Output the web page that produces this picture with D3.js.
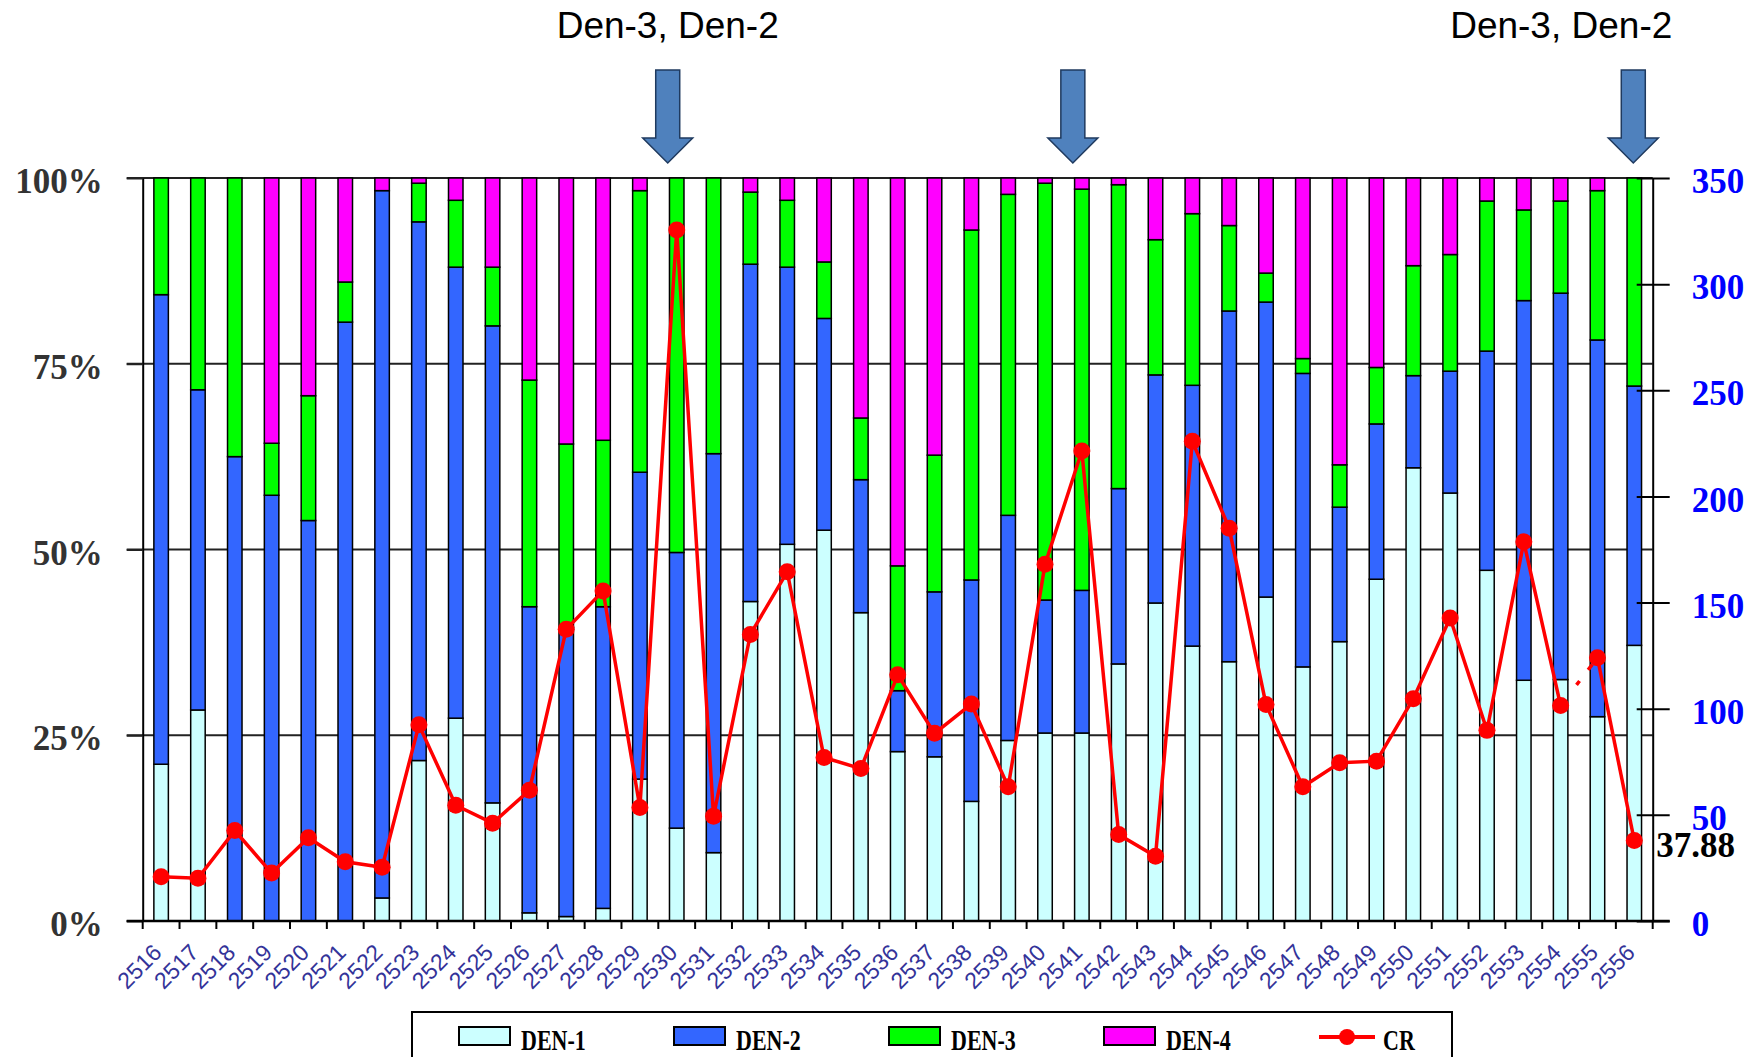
<!DOCTYPE html>
<html lang='en'>
  <head>
    <style type='text/css'>
      body {margin: 0; background-color: #fff;}
      svg {display: block;}
    </style>
  </head>
  <body>
    <svg id='chart' width='1755' height='1057'></svg>

    <script src='https://d3js.org/d3.v7.min.js'></script>
    <script type='text/javascript'>
        // ---- data ----
        var years = ["2516","2517","2518","2519","2520","2521","2522","2523","2524","2525",
                     "2526","2527","2528","2529","2530","2531","2532","2533","2534","2535",
                     "2536","2537","2538","2539","2540","2541","2542","2543","2544","2545",
                     "2546","2547","2548","2549","2550","2551","2552","2553","2554","2555","2556"];

        // share of each serotype, percent
        var den1 = [21.1, 28.4, 0, 0, 0, 0, 3.1, 21.6, 27.3, 15.9,
                    1.1, 0.6, 1.7, 19.1, 12.5, 9.2, 43.0, 50.7, 52.6, 41.5,
                    22.8, 22.1, 16.1, 24.3, 25.3, 25.3, 34.6, 42.8, 37.0, 34.9,
                    43.6, 34.2, 37.6, 46.0, 61.0, 57.6, 47.2, 32.4, 32.5, 27.5, 37.1];
        var den2 = [63.2, 43.1, 62.5, 57.3, 53.9, 80.6, 95.2, 72.5, 60.7, 64.2,
                    41.2, 38.9, 40.6, 41.3, 37.1, 53.7, 45.4, 37.3, 28.5, 17.9,
                    8.2, 22.2, 29.8, 30.3, 17.9, 19.2, 23.6, 30.7, 35.1, 47.2,
                    39.7, 39.5, 18.1, 20.9, 12.4, 16.4, 29.5, 51.1, 52.0, 50.7, 34.9];
        var den3 = [15.7, 28.5, 37.5, 7.0, 16.8, 5.4, 0, 5.2, 9.0, 7.9,
                    30.5, 24.7, 22.4, 37.9, 50.4, 37.1, 9.7, 9.0, 7.6, 8.3,
                    16.8, 18.4, 47.1, 43.2, 56.1, 54.0, 40.9, 18.2, 23.1, 11.5,
                    3.9, 2.0, 5.7, 7.6, 14.8, 15.7, 20.2, 12.2, 12.4, 20.1, 28.0];
        var den4 = [0, 0, 0, 35.7, 29.3, 14.0, 1.7, 0.7, 3.0, 12.0,
                    27.2, 35.8, 35.3, 1.7, 0, 0, 1.9, 3.0, 11.3, 32.3,
                    52.2, 37.3, 7.0, 2.2, 0.7, 1.5, 0.9, 8.3, 4.8, 6.4,
                    12.8, 24.3, 38.6, 25.5, 11.8, 10.3, 3.1, 4.3, 3.1, 1.7, 0];

        // CR, right axis
        var cr = [20.8, 20.1, 42.6, 22.6, 39.2, 27.9, 25.3, 92.4, 54.5, 46.1,
                  61.6, 137.4, 155.5, 53.5, 325.5, 49.4, 135, 164.5, 77, 71.8,
                  116, 88.4, 102.2, 63.2, 168, 221.4, 40.7, 30.5, 226, 185,
                  102, 63.2, 74.5, 75.3, 104.7, 142.7, 89.8, 178.6, 101.5, 124, 37.88];

        var pctTicks = [0, 25, 50, 75, 100];
        var crTicks = [0, 50, 100, 150, 200, 250, 300, 350];
        var seriesNames = ["DEN-1", "DEN-2", "DEN-3", "DEN-4"];
        var seriesColors = ["#ccffff", "#3366ff", "#00ff00", "#ff00ff"];
        var arrowYears = ["2530", "2541", "2556"];
        var noteText = "Den-3, Den-2";
        var lastLabel = "37.88";

        // ---- layout ----
        var svg = d3.select("#chart");
        var m = {left: 142.7, right: 1652.7, top: 178, bottom: 921};
        var serif = "'Liberation Serif', 'Times New Roman', serif";
        var sans = "'Liberation Sans', Arial, sans-serif";

        var x = d3.scaleBand().domain(years).range([m.left, m.right]);
        var y = d3.scaleLinear().domain([0, 100]).range([m.bottom, m.top]);
        var yR = d3.scaleLinear().domain([0, 350]).range([m.bottom, m.top]);
        var barW = 14.5;
        var cx = function(d) { return x(d) + x.bandwidth() / 2; };

        // table for the stack
        var table = years.map(function(d, i) {
            return {year: d, "DEN-1": den1[i], "DEN-2": den2[i], "DEN-3": den3[i], "DEN-4": den4[i]};
        });
        var stacked = d3.stack().keys(seriesNames)(table);

        // gridlines (behind bars)
        svg.append("g").selectAll("line").data(pctTicks).enter().append("line")
            .attr("x1", m.left - 16).attr("x2", m.right)
            .attr("y1", function(d) { return y(d); })
            .attr("y2", function(d) { return y(d); })
            .style("stroke", "#222").style("stroke-width", 2);

        // stacked bars
        var layer = svg.append("g").selectAll("g").data(stacked).enter().append("g")
            .style("fill", function(d, i) { return seriesColors[i]; });
        layer.selectAll("rect")
            .data(function(d) { return d.filter(function(s) { return s[1] - s[0] > 0; }); })
            .enter().append("rect")
            .attr("x", function(d) { return cx(d.data.year) - barW / 2; })
            .attr("width", barW)
            .attr("y", function(d) { return y(d[1]); })
            .attr("height", function(d) { return y(d[0]) - y(d[1]); })
            .style("stroke", "#000").style("stroke-width", 1.5);

        // left axis
        var gl = svg.append("g").attr("transform", "translate(" + m.left + ",0)")
            .call(d3.axisLeft(y).tickValues(pctTicks).tickSizeInner(16).tickSizeOuter(0)
                .tickPadding(24).tickFormat(function(d) { return d + "%"; }));
        gl.select(".domain").style("stroke", "#000").style("stroke-width", 2);
        gl.selectAll(".tick line").style("stroke", "#222").style("stroke-width", 2);
        gl.selectAll(".tick text").attr("dy", "0.42em")
            .style("font-family", serif).style("font-weight", "bold")
            .style("font-size", "35px").style("fill", "#333");

        // right axis
        var gr = svg.append("g").attr("transform", "translate(" + m.right + ",0)")
            .call(d3.axisRight(yR).tickValues(crTicks).tickSizeInner(17).tickSizeOuter(0)
                .tickPadding(22));
        gr.select(".domain").style("stroke", "#000").style("stroke-width", 2);
        gr.selectAll(".tick line").attr("x1", -16)
            .style("stroke", "#000").style("stroke-width", 2);
        gr.selectAll(".tick text").attr("dy", "0.42em")
            .style("font-family", serif).style("font-weight", "bold")
            .style("font-size", "35px").style("fill", "#0000ff");

        // bottom axis: ticks between categories, slanted labels
        var gb = svg.append("g");
        gb.append("line").attr("x1", m.left - 16).attr("x2", m.right + 17)
            .attr("y1", m.bottom).attr("y2", m.bottom)
            .style("stroke", "#000").style("stroke-width", 2.5);
        gb.selectAll(".bt").data(years.concat(["end"])).enter().append("line")
            .attr("x1", function(d) { return d === "end" ? m.right : x(d); })
            .attr("x2", function(d) { return d === "end" ? m.right : x(d); })
            .attr("y1", m.bottom).attr("y2", m.bottom + 8)
            .style("stroke", "#000").style("stroke-width", 2);
        gb.selectAll("text").data(years).enter().append("text")
            .attr("transform", function(d) {
                return "translate(" + (cx(d) + 2) + "," + (m.bottom + 33) + ") rotate(-45)";
            })
            .style("text-anchor", "end")
            .style("font-family", sans).style("font-size", "23px")
            .style("fill", "#333399")
            .text(function(d) { return d; });

        // CR line; the 2554-2555 step shows only as faint dashes
        var line = d3.line()
            .x(function(d) { return cx(d.year); })
            .y(function(d) { return yR(d.v); });
        var pts = years.map(function(d, i) { return {year: d, v: cr[i]}; });
        var n = pts.length;
        svg.append("path").datum(pts.slice(0, n - 2)).attr("d", line)
            .style("fill", "none").style("stroke", "#ff0000").style("stroke-width", 3.5);
        svg.append("path").datum(pts.slice(n - 3, n - 1)).attr("d", line)
            .style("fill", "none").style("stroke", "#ff0000").style("stroke-width", 3.5)
            .style("stroke-dasharray", "0,26,5,14,7,100");
        svg.append("path").datum(pts.slice(n - 2)).attr("d", line)
            .style("fill", "none").style("stroke", "#ff0000").style("stroke-width", 3.5);
        svg.append("g").selectAll("circle").data(pts).enter().append("circle")
            .attr("cx", function(d) { return cx(d.year); })
            .attr("cy", function(d) { return yR(d.v); })
            .attr("r", 8.5)
            .style("fill", "#ff0000");

        svg.append("text")
            .attr("x", cx(years[n - 1]) + 22)
            .attr("y", yR(cr[n - 1]) + 16)
            .style("font-family", serif).style("font-weight", "bold")
            .style("font-size", "35px").style("fill", "#000")
            .text(lastLabel);

        // arrows and notes above the plot
        var arrow = "M-12,70 L12,70 L12,138 L25,138 L0,163 L-25,138 L-12,138 Z";
        svg.append("g").selectAll("path").data(arrowYears).enter().append("path")
            .attr("transform", function(d, i) {
                return "translate(" + (cx(d) - (i === 2 ? 1 : 9)) + ",0)";
            })
            .attr("d", arrow)
            .style("fill", "#4f81bd").style("stroke", "#1f3a5f").style("stroke-width", 1.5);

        svg.append("text")
            .attr("x", cx(arrowYears[0]) - 9).attr("y", 38)
            .style("text-anchor", "middle")
            .style("font-family", sans).style("font-size", "37px").style("fill", "#000")
            .text(noteText);
        svg.append("text")
            .attr("x", cx(arrowYears[2]) + 38).attr("y", 38)
            .style("text-anchor", "end")
            .style("font-family", sans).style("font-size", "37px").style("fill", "#000")
            .text(noteText);

        // legend
        var lg = svg.append("g");
        lg.append("rect").attr("x", 412).attr("y", 1012).attr("width", 1040).attr("height", 46)
            .style("fill", "#fff").style("stroke", "#000").style("stroke-width", 2);
        var items = seriesNames.concat(["CR"]);
        var item = lg.selectAll(".li").data(items).enter().append("g")
            .attr("transform", function(d, i) { return "translate(" + (459 + i * 215) + ",0)"; });
        item.filter(function(d) { return d !== "CR"; }).append("rect")
            .attr("x", 0).attr("y", 1027).attr("width", 51).attr("height", 18)
            .style("fill", function(d, i) { return seriesColors[i]; })
            .style("stroke", "#000").style("stroke-width", 2);
        var crItem = item.filter(function(d) { return d === "CR"; });
        crItem.append("line").attr("x1", 0).attr("x2", 56).attr("y1", 1037).attr("y2", 1037)
            .style("stroke", "#ff0000").style("stroke-width", 4);
        crItem.append("circle").attr("cx", 28).attr("cy", 1037).attr("r", 8)
            .style("fill", "#ff0000");
        item.append("text")
            .attr("transform", function(d) {
                return "translate(" + (d === "CR" ? 64 : 62) + ",1050) scale(1,1.32)";
            })
            .style("font-family", serif).style("font-weight", "bold")
            .style("font-size", "22px").style("fill", "#000")
            .text(function(d) { return d; });
    </script>
  </body>
</html>
